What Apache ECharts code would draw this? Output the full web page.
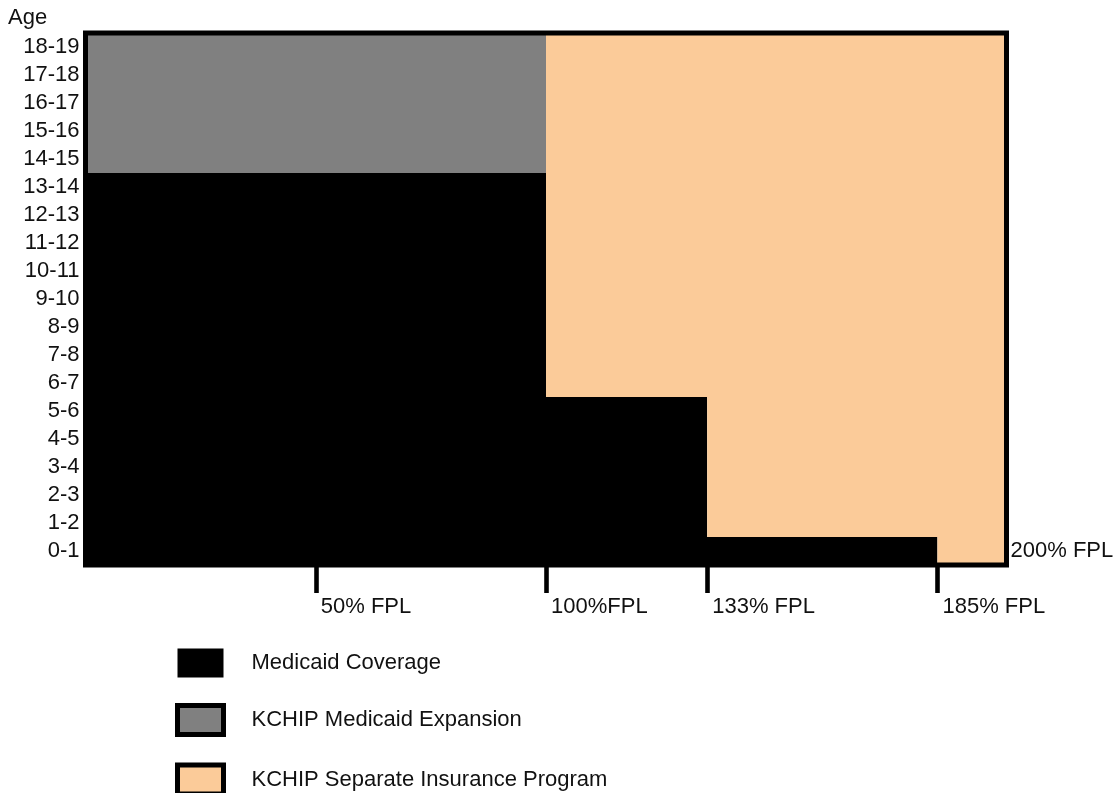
<!DOCTYPE html>
<html>
<head>
<meta charset="utf-8">
<script src="https://cdn.jsdelivr.net/npm/echarts@6/dist/echarts.min.js"></script>
<style>
html,body{margin:0;padding:0;background:#fff;}
#chart{width:1118px;height:793px;}
</style>
</head>
<body>
<div id="chart"></div>
<script>
// Age groups (bottom to top)
var categories = ['0-1','1-2','2-3','3-4','4-5','5-6','6-7','7-8','8-9','9-10','10-11','11-12','12-13','13-14','14-15','15-16','16-17','17-18','18-19'];
// Upper income limit of each program, in % of FPL (stacked widths)
var medicaid  = [185,135,135,135,135,135,100,100,100,100,100,100,100,100,0,0,0,0,0];
var expansion = [0,0,0,0,0,0,0,0,0,0,0,0,0,0,100,100,100,100,100];
var separate  = [15,65,65,65,65,65,100,100,100,100,100,100,100,100,100,100,100,100,100];
var seriesNames = ['Medicaid Coverage','KCHIP Medicaid Expansion','KCHIP Separate Insurance Program'];
var tickValues = [50,100,135,185];
var tickLabels = ['50% FPL','100%FPL','133% FPL','185% FPL'];
var maxLabel = '200% FPL';
var axisName = 'Age';

var FONT = 'Liberation Sans, Arial, sans-serif';
var FS = 22;
var chart = echarts.init(document.getElementById('chart'));

var sepData = separate.map(function(v, i){
  if (i === 0) {
    return {value: v, label: {show: true, position: 'right', distance: 4, formatter: maxLabel,
      fontSize: FS, fontFamily: FONT, color: '#111'}};
  }
  return v;
});

chart.setOption({
  animation: false,
  backgroundColor: '#fff',
  title: {
    text: axisName, left: 8, top: 7, padding: 0,
    textStyle: {fontSize: FS, fontWeight: 'normal', fontFamily: FONT, color: '#111'}
  },
  grid: {
    left: 85.5, right: 111.5, top: 33, bottom: 228,
    show: true, z: 10, backgroundColor: 'transparent',
    borderColor: '#000', borderWidth: 5
  },
  legend: {
    orient: 'vertical', left: 175, top: 648.5, padding: 0, height: 180,
    itemWidth: 46, itemHeight: 29, itemGap: 25.5,
    icon: 'rect',
    itemStyle: {borderColor: '#000', borderWidth: 5},
    textStyle: {fontSize: FS, fontFamily: FONT, color: '#111', padding: [0,0,0,23]},
    data: [
      {name: seriesNames[0], itemStyle: {borderWidth: 0}},
      {name: seriesNames[1]},
      {name: seriesNames[2]}
    ]
  },
  xAxis: {
    type: 'value', min: 0, max: 200,
    splitLine: {show: false},
    axisLine: {show: false},
    axisTick: {show: true, customValues: tickValues, length: 28, inside: false,
      lineStyle: {color: '#000', width: 4.6}},
    axisLabel: {
      show: true, customValues: tickValues, margin: 31, align: 'left',
      padding: [0,0,0,5],
      fontSize: FS, fontFamily: FONT, color: '#111',
      formatter: function(v){ var i = tickValues.indexOf(v); return i >= 0 ? tickLabels[i] : ''; }
    }
  },
  yAxis: {
    type: 'category', data: categories,
    axisLine: {show: false}, axisTick: {show: false}, splitLine: {show: false},
    axisLabel: {interval: 0, margin: 6, fontSize: FS, fontFamily: FONT, color: '#111'}
  },
  series: [
    {name: seriesNames[0], type: 'bar', stack: 'fpl', data: medicaid,
      barWidth: '100%', barCategoryGap: 0, itemStyle: {color: '#000'}},
    {name: seriesNames[1], type: 'bar', stack: 'fpl', data: expansion,
      barWidth: '100%', barCategoryGap: 0, itemStyle: {color: '#808080'}},
    {name: seriesNames[2], type: 'bar', stack: 'fpl', data: sepData,
      barWidth: '100%', barCategoryGap: 0, itemStyle: {color: '#FBCB99'}}
  ]
});
</script>
</body>
</html>
